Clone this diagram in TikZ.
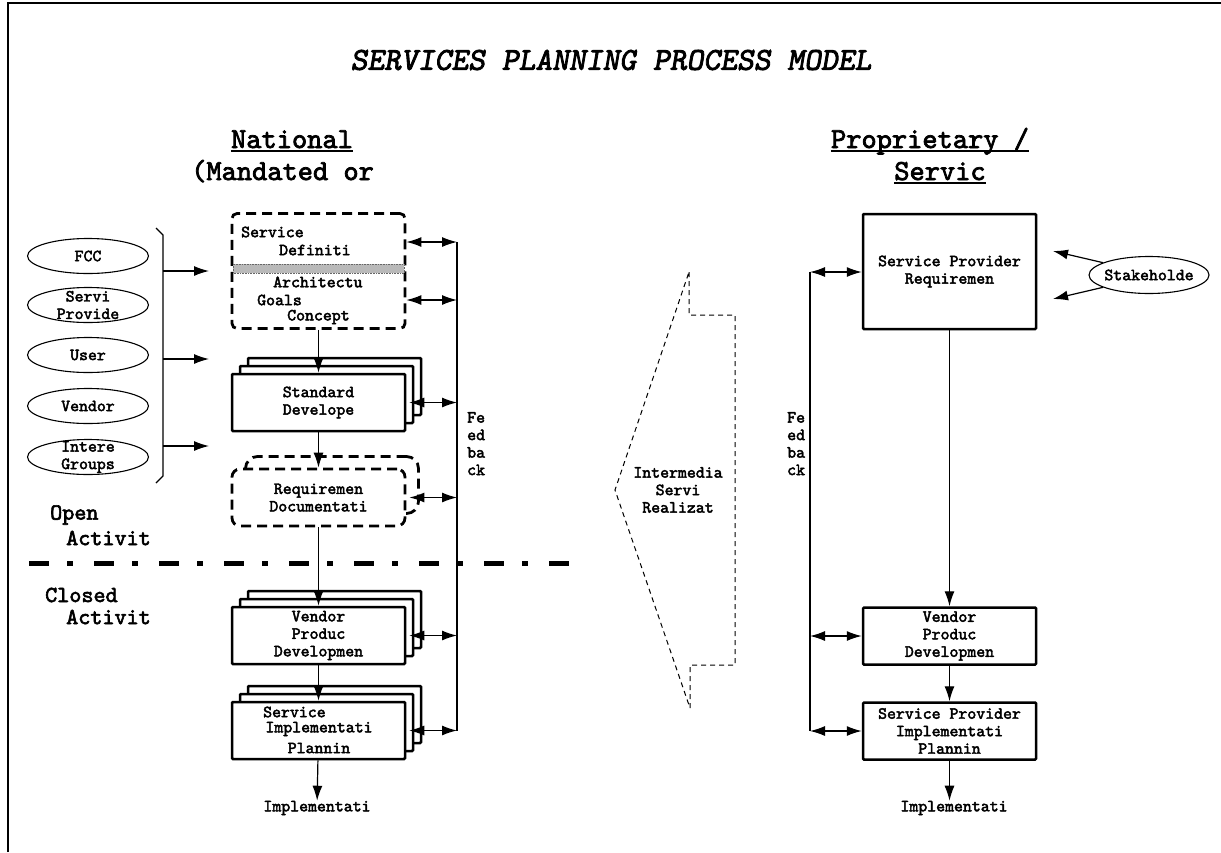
\documentclass[tikz,border=0pt]{standalone}
\usepackage{fontspec}
\usepackage{tikz}
\usetikzlibrary{arrows.meta,shapes.geometric,shadows}

\newfontfamily\crfont{lmmono10-regular}[Extension=.otf,FakeBold=2.6]
\newfontfamily\crslfont{lmmonoslant10-regular}[Extension=.otf,FakeBold=2.6]
\newcommand{\txtfont}{\crfont\fontsize{17}{17.5}\selectfont}
\newcommand{\ttlfont}{\crslfont\fontsize{32}{36}\selectfont}
\newcommand{\hdfont}{\crfont\fontsize{29}{32}\selectfont}
\newcommand{\zonefont}{\crfont\fontsize{23}{26}\selectfont}

\tikzset{
  txt/.style={font=\txtfont,align=center,inner sep=0pt},
  hd/.style={font=\hdfont,inner sep=0pt},
  zone/.style={font=\zonefont,inner sep=0pt,anchor=west},
  blk/.style={draw,line width=2.5pt,fill=white,minimum width=173,minimum height=57,
    rounded corners=1pt,font=\txtfont,align=center,inner sep=0pt},
  dbox/.style={draw,line width=2.8pt,dash pattern=on 10pt off 6pt,rounded corners=5pt,
    fill=white,minimum width=173,minimum height=57,font=\txtfont,align=center,inner sep=0pt},
  stack/.style={copy shadow={shadow xshift=16pt,shadow yshift=16pt,draw,fill=white},
    copy shadow={shadow xshift=8pt,shadow yshift=8pt,draw,fill=white}},
  ell/.style={draw,ellipse,line width=1.1pt,minimum width=121,minimum height=35,inner sep=0pt},
  arr/.style={-{Latex[length=15pt,width=10pt]},line width=1.2pt},
  darr/.style={{Latex[length=15pt,width=10pt]}-{Latex[length=15pt,width=10pt]},line width=1.2pt},
  fbline/.style={line width=1.2pt},
}

\begin{document}
\begin{tikzpicture}[x=1pt,y=-1pt]
\useasboundingbox (0,0) rectangle (1221,852);
\draw[line width=2.5pt] (8,852) -- (8,3) -- (1221,3);

\node[font=\ttlfont] (title) at (611,60) {SERVICES PLANNING PROCESS MODEL};

% column headings
\node[hd,anchor=base] (natl) at (292,148) {National};
\node[hd,anchor=base west] (mand) at (191,180) {(Mandated or};
\node[hd,anchor=base] (prop) at (930,148) {Proprietary /};
\node[hd,anchor=base] (serv) at (940,180) {Servic};
\foreach \n in {natl,prop,serv}
  \draw[line width=2.5pt] ([yshift=-3pt]\n.base west) -- ([yshift=-3pt]\n.base east);

% participants
\foreach \y/\t [count=\i] in {256/FCC,305/{Servi\\Provide},355/User,406/Vendor,457/{Intere\\Groups}}{
  \node[ell] (pt\i) at (88,\y) {};
  \node[txt] (ptt\i) at (pt\i) {\t};
}
\draw[line width=1.2pt] (156,228) -- (163,235) -- (163,476) -- (156,483);
\foreach \y [count=\i] in {271,359,446}{
  \coordinate (bo\i) at (163,\y);
  \coordinate (bi\i) at (209,\y);
  \draw[arr] (bo\i) -- (bi\i);
}

% national column
\node[dbox,minimum height=115] (sdef) at (318.5,271) {};
\draw[fill=gray!55,draw=gray!80!black,densely dotted,line width=.6pt] (233,264) rectangle (404,273);
\node[txt,anchor=west] (sd1) at (241,232) {Service};
\node[txt,anchor=west] (sd2) at (279,250) {Definiti};
\node[txt,anchor=west] (sd3) at (273,282) {Architectu};
\node[txt,anchor=west] (sd4) at (257,300) {Goals};
\node[txt,anchor=west] (sd5) at (287,317) {Concept};

\node[blk,stack] (std) at (318.5,402.5) {Standard\\Develope};
\node[dbox,rounded corners=12pt] (rqb) at (332,485) {};
\node[dbox,rounded corners=8pt] (rqd) at (318.5,497.5) {Requiremen\\Documentati};
\node[blk,stack] (vpd) at (318.5,635.5) {Vendor\\Produc\\Developmen};
\node[blk,stack] (sip) at (318.5,730.5) {};
\node[txt,anchor=west] (sip1) at (263,712) {Service};
\node[txt] (sip2) at (319,729) {Implementati};
\node[txt] (sip3) at (319,748) {Plannin};
\node[txt] (impl) at (317,808) {Implementati};

\draw[arr] (sdef) -- (std);
\draw[arr] (std) -- (rqd);
\draw[arr] (rqd) -- (vpd);
\draw[arr] (vpd) -- (sip);
\draw[arr] (sip) -- (impl);

% feedback (national)
\coordinate (fbt) at (457,242);
\coordinate (fbm) at (457,300);
\draw[fbline] (fbt) -- (sip.east -| fbt);
\draw[darr] (sdef.east |- fbt) -- (fbt);
\draw[darr] (sdef.east |- fbm) -- (fbm);
\foreach \n in {std,rqd,vpd,sip}
  \draw[darr] ([xshift=3pt]\n.east) -- (\n.east -| fbt);
\node[txt,align=left,anchor=north west] (fbl) at (467,412) {Fe\\ed\\ba\\ck};

% open / closed
\node[zone] (op1) at (50,515) {Open};
\node[zone] (op2) at (66,538) {Activit};
\node[zone] (cl1) at (45,595) {Closed};
\node[zone] (cl2) at (66,617) {Activit};
\draw[line width=5pt,dash pattern=on 20pt off 18pt on 6pt off 21pt] (29,563) -- (570,563);

% intermediate
\draw[line width=1pt,dash pattern=on 5pt off 4pt] (689,272) -- (689,315) -- (735,315)
  -- (735,665) -- (690,665) -- (690,708) -- (615,490) -- cycle;
\node[txt] (imr) at (678,490) {Intermedia\\Servi\\Realizat};

% proprietary column
\node[blk,minimum height=115] (spr) at (949.5,271.5) {Service Provider\\Requiremen};
\node[blk] (vpr) at (949.5,636) {Vendor\\Produc\\Developmen};
\node[blk] (spi) at (949.5,731) {Service Provider\\Implementati\\Plannin};
\node[txt] (implr) at (954,808) {Implementati};
\draw[arr] (spr) -- (vpr);
\draw[arr] (vpr) -- (spi);
\draw[arr] (spi.south) -- (spi.south |- implr.north);

% feedback (proprietary)
\coordinate (rfb) at (810,272);
\draw[fbline] (rfb) -- (spi.west -| rfb);
\draw[darr] (rfb) -- (spr.west |- rfb);
\draw[darr] (vpr.west -| rfb) -- (vpr.west);
\draw[darr] (spi.west -| rfb) -- (spi.west);
\node[txt,align=left,anchor=north west] (fbr) at (787,412) {Fe\\ed\\ba\\ck};

% stakeholders
\node[ell,minimum width=120,minimum height=37] (skh) at (1149,275) {};
\node[txt] (skht) at (skh) {Stakeholde};
\coordinate (sk1) at (1053,251);
\coordinate (sk2) at (1053,299);
\draw[arr] (skh.165) -- (sk1);
\draw[arr] (skh.195) -- (sk2);
\end{tikzpicture}
\end{document}
